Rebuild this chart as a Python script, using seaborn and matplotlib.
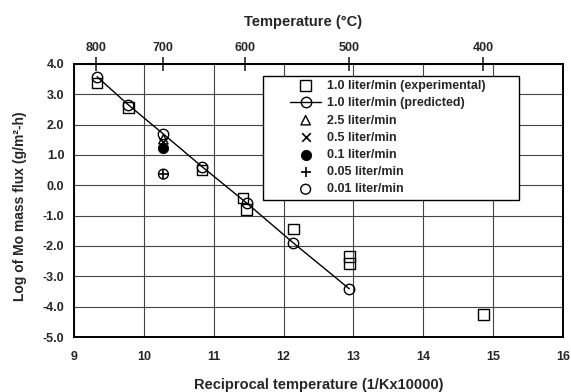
import numpy as np
import pandas as pd
import matplotlib
matplotlib.use("Agg")
import matplotlib.pyplot as plt
from matplotlib.patches import Rectangle
import seaborn as sns

# ---- data ----
exp_x = [9.33, 9.78, 10.83, 11.42, 11.47, 12.14, 12.94, 12.94, 14.86]
exp_y = [3.38, 2.56, 0.51, -0.42, -0.80, -1.44, -2.34, -2.58, -4.26]

pred_x = [9.33, 9.78, 10.28, 10.83, 11.47, 12.14, 12.94]
pred_y = [3.58, 2.65, 1.69, 0.62, -0.58, -1.90, -3.41]

f25_x, f25_y = [10.28], [1.52]
f05_x, f05_y = [10.28], [1.42]
f01_x, f01_y = [10.28], [1.24]
f005_x, f005_y = [10.28], [0.37]
f001_x, f001_y = [10.28], [0.37]

temps_c = [800, 700, 600, 500, 400]
x_ticks = [9, 10, 11, 12, 13, 14, 15, 16]
y_ticks = [4, 3, 2, 1, 0, -1, -2, -3, -4, -5]

labels = ["1.0 liter/min (experimental)", "1.0 liter/min (predicted)",
          "2.5 liter/min", "0.5 liter/min", "0.1 liter/min",
          "0.05 liter/min", "0.01 liter/min"]

# ---- style ----
sns.set_style("white")
plt.rcParams['font.family'] = ['Liberation Sans', 'DejaVu Sans']
plt.rcParams['font.weight'] = 'bold'
plt.rcParams['axes.labelweight'] = 'bold'

fig = plt.figure(figsize=(5.71, 3.92), dpi=100)
ax = fig.add_axes([74/571, 1-337/392, (563-74)/571, (337-64)/392])

sns.scatterplot(x=exp_x, y=exp_y, ax=ax, marker='s', s=58, facecolor='none',
                edgecolor='black', linewidth=1.0, label=labels[0], zorder=4)
sns.lineplot(x=pred_x, y=pred_y, ax=ax, color='black', linewidth=1.0, marker='o',
             markersize=7.5, markerfacecolor='none', markeredgecolor='black',
             markeredgewidth=1.0, sort=False, label=labels[1], zorder=5)
sns.scatterplot(x=f25_x, y=f25_y, ax=ax, marker='^', s=45, facecolor='none',
                edgecolor='black', linewidth=1.0, label=labels[2], zorder=4)
sns.scatterplot(x=f05_x, y=f05_y, ax=ax, marker='x', s=38, color='black',
                linewidth=1.2, label=labels[3], zorder=4)
sns.scatterplot(x=f01_x, y=f01_y, ax=ax, marker='o', s=55, color='black',
                edgecolor='black', label=labels[4], zorder=4)
sns.scatterplot(x=f005_x, y=f005_y, ax=ax, marker='+', s=42, color='black',
                linewidth=1.2, label=labels[5], zorder=4)
sns.scatterplot(x=f001_x, y=f001_y, ax=ax, marker='o', s=50, facecolor='none',
                edgecolor='black', linewidth=1.0, label=labels[6], zorder=4)

ax.set_xlim(9, 16)
ax.set_ylim(-5, 4)
ax.set_xticks(x_ticks)
ax.set_xticklabels([str(v) for v in x_ticks])
ax.set_yticks(y_ticks)
ax.set_yticklabels([f"{v:.1f}" for v in y_ticks])
ax.grid(True, color='#444444', linewidth=0.8)
ax.set_axisbelow(True)
for sp in ax.spines.values():
    sp.set_color('black')
    sp.set_linewidth(1.4)
ax.tick_params(axis='x', length=0, labelsize=9, pad=10)
ax.tick_params(axis='y', length=0, labelsize=9, pad=7)
for t in ax.get_xticklabels() + ax.get_yticklabels():
    t.set_fontweight('bold')

ax.set_xlabel("Reciprocal temperature (1/Kx10000)", fontsize=10.5, fontweight='bold', labelpad=11)
ax.set_ylabel("Log of Mo mass flux (g/m²-h)", fontsize=10, fontweight='bold', labelpad=11)
ax.yaxis.label.set_y((337-206)/273)

# top axis
top = ax.secondary_xaxis('top')
top_pos = [1e4 / (t + 273.15) for t in temps_c]
top.set_xticks(top_pos)
top.set_xticklabels([str(t) for t in temps_c])
top.tick_params(direction='inout', length=10, width=1.2, labelsize=9, pad=2)
for t in top.get_xticklabels():
    t.set_fontweight('bold')
top.set_xlabel("Temperature (°C)", fontsize=10.5, fontweight='bold', labelpad=12)
top.xaxis.label.set_x((303-74)/489)
top.spines['top'].set_linewidth(1.4)

# legend
ax.add_patch(Rectangle(((263-74)/489, (337-200)/273), (519-263)/489, (200-76)/273,
                       transform=ax.transAxes, facecolor='white', edgecolor='black',
                       linewidth=1.0, zorder=6))
handles, labs = ax.get_legend_handles_labels()
leg = ax.legend(handles, labs, loc='upper left',
                bbox_to_anchor=((290-74)/489, (337-80)/273),
                frameon=False, borderpad=0, borderaxespad=0,
                labelspacing=0.42, handlelength=2.5, handletextpad=0.45,
                prop={'weight': 'bold', 'size': 9})
leg.set_zorder(7)

fig.savefig("out.png", dpi=100)
